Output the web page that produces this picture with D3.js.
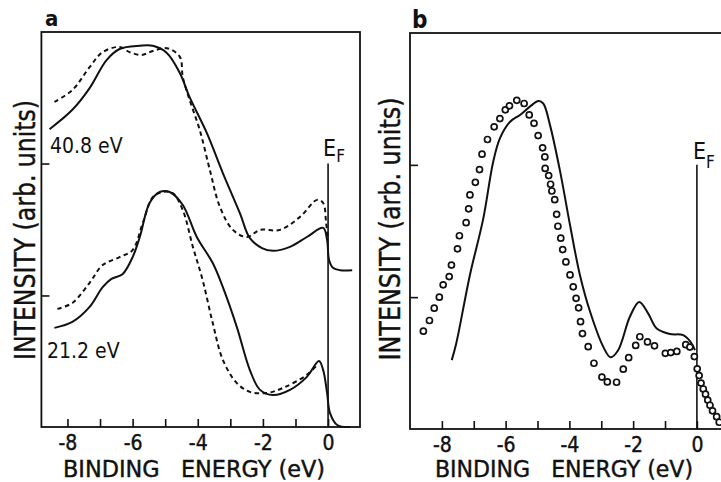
<!DOCTYPE html>
<html lang="en">
<head>
<meta charset="UTF-8">
<title>photoemission spectra</title>
<script src="https://d3js.org/d3.v7.min.js"></script>
<style>
  body { margin: 0; background: #fff; }
  svg { display: block; }
  text { font-family: "DejaVu Sans Condensed", "DejaVu Sans", sans-serif; fill: #111; }
</style>
</head>
<body>
<svg width="721" height="482"></svg>
<script>
// panel a: [binding energy (eV), intensity (arb.)]
const a408Solid = [[-8.55,75.4],[-7.85,80.3],[-7.32,85.8],[-6.80,92.9],[-6.40,95.7],[-5.78,96.5],[-5.38,96.5],[-4.95,94.7],[-4.55,89.6],[-4.25,83.5],[-3.72,74.4],[-3.23,64.3],[-2.71,54.2],[-2.40,47.8],[-2.03,45.3],[-1.69,44.6],[-1.17,45.6],[-0.65,48.1],[-0.15,50.4],[-0.03,47.3],[0.03,42.3],[0.15,40.3],[0.37,39.7],[0.74,39.7]];
const a408Dashed = [[-8.40,82.3],[-7.85,85.3],[-7.32,91.1],[-6.92,94.9],[-6.40,96.2],[-6.09,94.9],[-5.72,94.2],[-5.38,95.2],[-4.95,95.9],[-4.55,93.7],[-4.46,88.6],[-4.25,82.8],[-3.94,75.2],[-3.63,65.1],[-3.32,55.7],[-2.92,49.9],[-2.49,48.1],[-2.09,49.9],[-1.48,49.9],[-0.86,53.2],[-0.34,57.5],[-0.15,56.7],[-0.06,51.6],[0.0,47.3]];
const a212Solid = [[-8.40,25.1],[-7.85,26.6],[-7.32,30.4],[-6.92,35.4],[-6.65,37.5],[-6.31,38.7],[-6.00,43.0],[-5.78,48.1],[-5.48,56.7],[-5.17,59.5],[-4.86,59.5],[-4.46,56.2],[-4.03,48.1],[-3.54,41.5],[-3.23,35.4],[-2.80,25.3],[-2.40,14.4],[-2.09,9.4],[-1.69,8.1],[-1.17,9.4],[-0.65,12.7],[-0.28,16.7],[-0.15,14.4],[-0.03,8.6],[0.06,3.5],[0.28,0.5],[0.68,0]];
const a212Dashed = [[-8.31,29.9],[-7.85,31.4],[-7.32,36.5],[-6.92,41.0],[-6.40,43.0],[-6.00,44.8],[-5.69,51.6],[-5.38,58.2],[-5.08,59.5],[-4.77,59.2],[-4.46,54.9],[-4.15,45.6],[-3.85,37.2],[-3.54,26.3],[-3.23,17.0],[-2.80,11.1],[-2.40,8.9],[-1.88,8.6],[-1.38,9.9],[-0.65,13.2],[-0.37,15.4]];

// panel b
const bSolid = [[-7.69,17.4],[-7.55,21.6],[-7.12,38.9],[-6.70,53.2],[-6.39,67.5],[-6.18,73.4],[-5.86,77.6],[-5.55,79.3],[-5.24,81.4],[-4.97,82.8],[-4.82,82.2],[-4.61,76.8],[-4.29,65.0],[-3.98,51.5],[-3.67,38.9],[-3.35,29.6],[-2.94,20.8],[-2.71,18.1],[-2.47,19.9],[-2.10,28.4],[-1.81,32.1],[-1.53,29.2],[-1.26,25.4],[-0.85,24.0],[-0.43,23.7],[-0.20,22.0],[-0.06,19.9]];
const bCircles = [[-8.58,24.7],[-8.39,27.4],[-8.24,30.5],[-8.08,33.3],[-7.96,36.4],[-7.77,38.5],[-7.70,41.4],[-7.51,45.5],[-7.45,48.8],[-7.24,52.1],[-7.16,55.6],[-7.12,59.1],[-6.95,62.3],[-6.82,65.5],[-6.74,69.4],[-6.57,73.1],[-6.36,76.3],[-6.18,78.4],[-6.01,80.6],[-5.88,81.6],[-5.65,83.0],[-5.42,82.2],[-5.26,79.3],[-5.11,77.2],[-4.98,74.1],[-4.84,71.0],[-4.77,68.7],[-4.76,65.8],[-4.65,64.0],[-4.59,61.8],[-4.55,60.1],[-4.46,57.9],[-4.40,54.2],[-4.36,51.2],[-4.27,48.2],[-4.21,45.3],[-4.11,42.2],[-3.98,38.9],[-3.88,35.9],[-3.79,33.0],[-3.71,30.6],[-3.65,27.1],[-3.59,24.1],[-3.41,20.8],[-3.23,16.6],[-2.98,13.1],[-2.81,11.9],[-2.52,11.8],[-2.31,15.1],[-2.14,18.0],[-1.92,21.1],[-1.79,23.3],[-1.55,22.0],[-1.33,21.0],[-0.99,19.1],[-0.82,19.3],[-0.63,19.6],[-0.35,21.3],[-0.22,20.7],[-0.08,18.3],[0.01,15.2],[0.07,13.5],[0.13,11.6],[0.20,10.1],[0.27,8.8],[0.34,7.3],[0.41,6.0],[0.49,4.6],[0.62,3.1],[0.70,1.7]];

const xTicks = [-8,-7,-6,-5,-4,-3,-2,-1,0];
const xTickLabels = {"-8":"-8","-6":"-6","-4":"-4","-2":"-2","0":"0"};
const yTicks = [33.3, 66.7];
const efTop = 66.7;

const svg = d3.select("svg");

function panel(opt) {
  const x = d3.scaleLinear().domain(opt.xDomain).range(opt.xRange);
  const y = d3.scaleLinear().domain([0, 100]).range(opt.yRange);
  const g = svg.append("g");

  // frame
  g.append("rect")
    .attr("x", opt.xRange[0]).attr("y", opt.yRange[1])
    .attr("width", opt.xRange[1] - opt.xRange[0])
    .attr("height", opt.yRange[0] - opt.yRange[1])
    .attr("fill", "none").attr("stroke", "#111").attr("stroke-width", 1.8);

  const xAxis = g.append("g")
    .attr("transform", `translate(0,${opt.yRange[0]})`)
    .call(d3.axisBottom(x).tickValues(xTicks).tickSize(-8).tickSizeOuter(0).tickPadding(8)
      .tickFormat(d => xTickLabels[d] || ""));
  xAxis.select(".domain").remove();
  xAxis.selectAll("line").attr("stroke", "#111").attr("stroke-width", 1.6);
  xAxis.selectAll("text").attr("font-size", 21).attr("font-family", null)
    .attr("stroke", "#111").attr("stroke-width", 0.4);

  const yAxis = g.append("g")
    .attr("transform", `translate(${opt.xRange[0]},0)`)
    .call(d3.axisLeft(y).tickValues(yTicks).tickSize(-8).tickFormat(""));
  yAxis.select(".domain").remove();
  yAxis.selectAll("line").attr("stroke", "#111").attr("stroke-width", 1.6);

  // Fermi level
  g.append("line")
    .attr("x1", x(0)).attr("x2", x(0))
    .attr("y1", y(efTop)).attr("y2", y(0))
    .attr("stroke", "#111").attr("stroke-width", 1.6);
  const ef = g.append("text").attr("x", x(0) + opt.efDx).attr("y", y(efTop) - opt.efDy).attr("font-size", 23);
  ef.append("tspan").text("E");
  ef.append("tspan").attr("dy", opt.fDy).attr("font-size", 17).text("F");

  const line = d3.line().x(d => x(d[0])).y(d => y(d[1])).curve(d3.curveCatmullRom.alpha(0.5));
  return { g, x, y, line };
}

// ---- panel a
const pa = panel({ xDomain: [-8.8, 0.98], xRange: [41.4, 360], yRange: [427, 32], efDx: -5, efDy: 8, fDy: 6 });
[[a408Solid, null], [a408Dashed, "4.5,3.5"], [a212Solid, null], [a212Dashed, "4.5,3.5"]].forEach(([d, dash]) => {
  pa.g.append("path").attr("d", pa.line(d)).attr("fill", "none")
    .attr("stroke", "#111").attr("stroke-width", 2)
    .attr("stroke-dasharray", dash);
});
pa.g.append("text").attr("x", 50).attr("y", 153).attr("font-size", 21).text("40.8 eV");
pa.g.append("text").attr("x", 47).attr("y", 358).attr("font-size", 21).text("21.2 eV");
svg.append("text").attr("x", 45).attr("y", 26).attr("font-size", 22).attr("font-weight", "bold")
  .attr("font-family", "DejaVu Sans").text("a");

// ---- panel b
const pb = panel({ xDomain: [-9.0, 0.8], xRange: [410, 722.4], yRange: [429, 33], efDx: -4, efDy: 6, fDy: 9 });
pb.g.append("path").attr("d", pb.line(bSolid)).attr("fill", "none")
  .attr("stroke", "#111").attr("stroke-width", 2);
pb.g.selectAll("circle").data(bCircles).join("circle")
  .attr("cx", d => pb.x(d[0])).attr("cy", d => pb.y(d[1])).attr("r", 3)
  .attr("fill", "#fff").attr("stroke", "#111").attr("stroke-width", 1.7);
svg.append("text").attr("x", 412).attr("y", 28).attr("font-size", 24).attr("font-weight", "bold")
  .attr("font-family", "DejaVu Sans").text("b");

// axis titles
[[23, 230, 260, 35], [392, 229, 263, 400]].forEach(([cx, cy, len, base]) => {
  svg.append("text")
    .attr("transform", `translate(${base},${cy}) rotate(-90)`)
    .attr("text-anchor", "middle").attr("font-size", 29)
    .attr("textLength", len).attr("lengthAdjust", "spacingAndGlyphs")
    .attr("stroke", "#111").attr("stroke-width", 0.4)
    .text("INTENSITY (arb. units)");
});
[[194, 262], [564, 258]].forEach(([cx, len]) => {
  svg.append("text")
    .attr("x", cx).attr("y", 476.5).attr("text-anchor", "middle").attr("font-size", 23)
    .attr("textLength", len).attr("lengthAdjust", "spacingAndGlyphs")
    .attr("stroke", "#111").attr("stroke-width", 0.4)
    .style("white-space", "pre")
    .text("BINDING   ENERGY (eV)");
});
</script>
</body>
</html>
